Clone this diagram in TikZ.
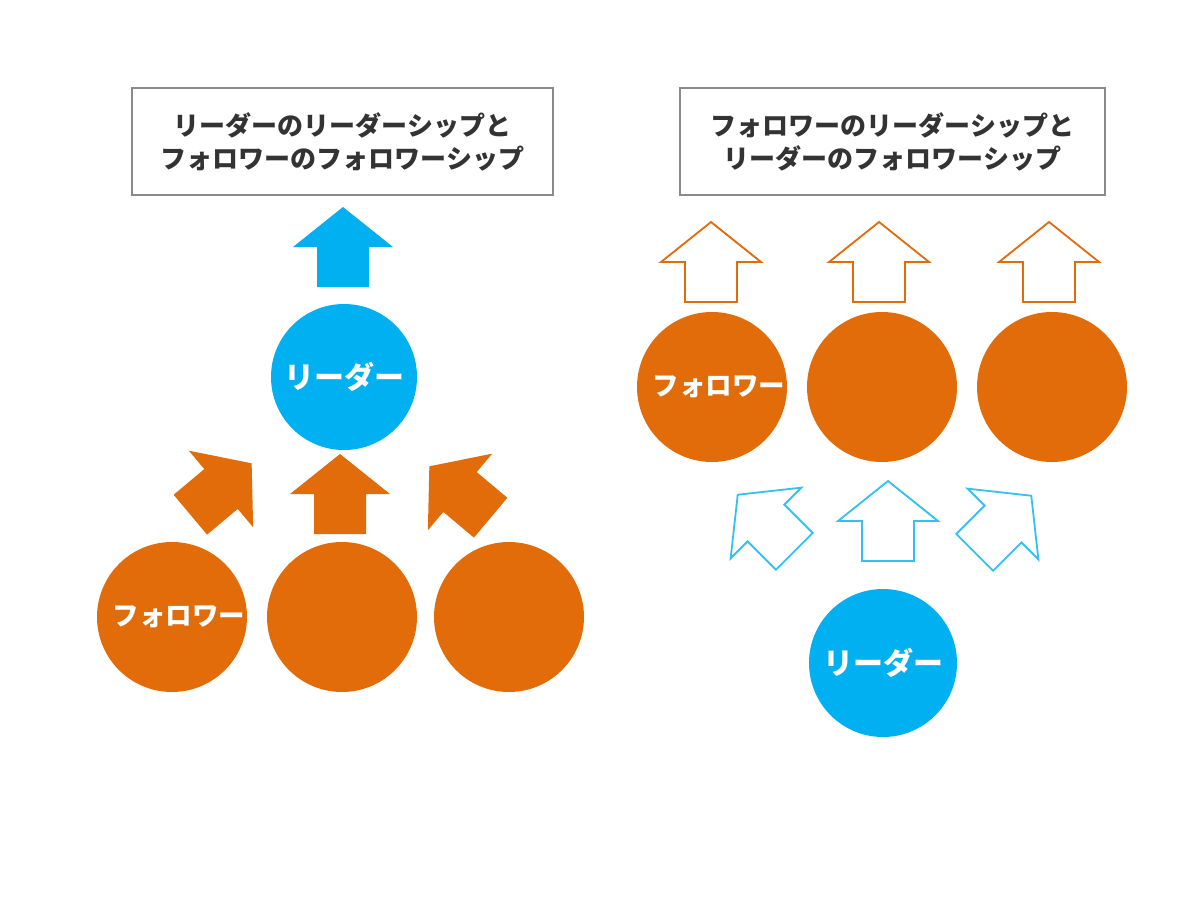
\documentclass[tikz,border=0pt]{standalone}
\usepackage{fontspec}
\newfontfamily\jp{Noto Sans CJK JP}
\definecolor{orng}{HTML}{E36C0A}
\definecolor{sky}{HTML}{00B0F0}
\definecolor{boxgray}{HTML}{8A8A8A}
\definecolor{txtgray}{HTML}{333333}
\newcommand\blockarrow[4]{%
  \begin{scope}[shift={(#1,#2)},rotate=#3]
    \path[#4] (0,-40) -- (50,0) -- (26,0) -- (26,40) -- (-26,40) -- (-26,0) -- (-50,0) -- cycle;
  \end{scope}}
\begin{document}
\begin{tikzpicture}[x=1pt,y=-1pt,
  solidorange/.style={fill=orng},
  solidblue/.style={fill=sky},
  lineorange/.style={draw=orng,line width=1.8,fill=white,line join=miter},
  lineblue/.style={draw=sky!80,line width=1.8,fill=white,line join=miter},
  follower/.style={circle,fill=orng,minimum size=150,inner sep=0},
  leader/.style={circle,fill=sky,minimum size=146,inner sep=0},
  titlebox/.style={draw=boxgray,line width=1.5,fill=white,minimum height=107,align=center,
    font=\jp\bfseries\fontsize{26}{33}\selectfont,text=txtgray},
  ftext/.style={font=\jp\bfseries\fontsize{26.5}{30}\selectfont,text=white,inner sep=0},
  ltext/.style={font=\jp\bfseries\fontsize{30}{34}\selectfont,text=white,inner sep=0}]
\useasboundingbox[fill=white] (0,0) rectangle (1197,900);

% ---------- left diagram ----------
\node[titlebox,minimum width=421] (lbox) at (342.5,141.5) {リーダーのリーダーシップと\\フォロワーのフォロワーシップ};
\node[leader] (lldr) at (344,377) {};
\node[ltext] (llt) at (lldr.center) {リーダー};
\node[follower] (lf1) at (172,617) {};
\node[follower] (lf2) at (342,617) {};
\node[follower] (lf3) at (509,617) {};
\node[ftext,xshift=7pt] (lft) at (lf1.center) {フォロワー};
\blockarrow{343}{247}{0}{solidblue}
\blockarrow{221}{489}{-50}{solidorange}
\blockarrow{340}{494}{0}{solidorange}
\blockarrow{460}{492}{50}{solidorange}

% ---------- right diagram ----------
\node[titlebox,minimum width=425] (rbox) at (892.5,141.5) {フォロワーのリーダーシップと\\リーダーのフォロワーシップ};
\node[follower] (rf1) at (712,387) {};
\node[follower] (rf2) at (882,387) {};
\node[follower] (rf3) at (1052,387) {};
\node[ftext,xshift=7pt] (rft) at (rf1.center) {フォロワー};
\node[leader,minimum size=148] (rldr) at (883,663) {};
\node[ltext] (rlt) at (rldr.center) {リーダー};
\blockarrow{711}{262}{0}{lineorange}
\blockarrow{879}{262}{0}{lineorange}
\blockarrow{1049}{262}{0}{lineorange}
\blockarrow{766}{523}{45}{lineblue}
\blockarrow{888}{521}{0}{lineblue}
\blockarrow{1003}{524}{-45}{lineblue}
\end{tikzpicture}
\end{document}
